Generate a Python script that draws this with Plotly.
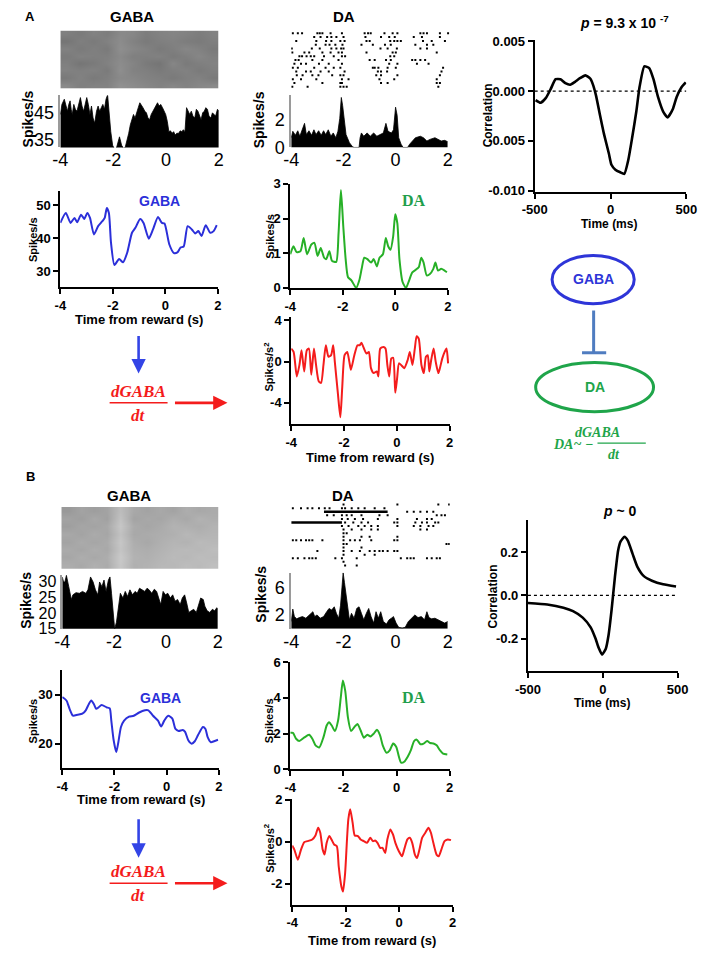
import plotly.graph_objects as go

W, H = 708, 959
SANS = "Liberation Sans, Arial, sans-serif"
SERIF = "Liberation Serif, DejaVu Serif, serif"

# ======================= DATA =======================
time_ticks = [-4, -2, 0, 2]
time_tick_text = ["-4", "-2", "0", "2"]

# ---- Panel A : PSTHs (time s, spikes/s) ----
gaba_a_psth = [(-4.0,44.4),(-3.94,48.1),(-3.85,50.0),(-3.78,46.9),(-3.73,45.6),(-3.68,48.1),(-3.63,49.4),(-3.59,46.3),
    (-3.55,44.4),(-3.49,48.1),(-3.43,46.3),(-3.37,45.6),(-3.30,48.1),(-3.24,50.6),(-3.18,47.5),(-3.12,45.6),(-3.06,48.1),
    (-3.0,50.6),(-2.94,48.1),(-2.88,44.4),(-2.82,47.5),(-2.76,43.1),(-2.70,41.2),(-2.63,45.6),(-2.57,47.5),(-2.51,45.6),
    (-2.45,46.9),(-2.39,48.1),(-2.33,46.3),(-2.27,50.0),(-2.21,51.6),(-2.15,44.4),(-2.09,38.1),(-2.02,33.1),(-1.96,31.9),
    (-1.88,31.9),(-1.80,34.4),(-1.76,36.2),(-1.68,33.1),(-1.60,31.9),(-1.54,32.5),(-1.48,34.4),(-1.41,37.5),(-1.35,40.6),
    (-1.29,42.5),(-1.23,44.4),(-1.17,43.1),(-1.11,45.6),(-1.05,46.9),(-0.99,48.7),(-0.93,47.5),(-0.87,46.9),(-0.80,45.6),
    (-0.74,45.0),(-0.68,43.1),(-0.62,42.5),(-0.56,44.4),(-0.50,45.6),(-0.44,46.9),(-0.38,48.1),(-0.32,48.7),(-0.26,47.5),
    (-0.20,48.1),(-0.13,46.9),(-0.07,45.6),(-0.01,44.4),(0.05,41.9),(0.11,38.1),(0.17,38.4),(0.23,37.5),(0.29,38.1),
    (0.35,36.9),(0.41,37.5),(0.48,37.5),(0.54,38.4),(0.60,38.1),(0.66,38.8),(0.72,38.1),(0.78,46.9),(0.84,45.6),
    (0.90,44.4),(0.96,45.6),(1.02,43.8),(1.09,43.1),(1.15,46.3),(1.21,45.6),(1.27,43.8),(1.33,42.5),(1.39,45.0),
    (1.45,45.6),(1.51,46.9),(1.57,46.3),(1.63,43.8),(1.70,43.1),(1.76,45.0),(1.82,44.4),(1.88,43.8),(1.95,46.3),(2.0,45.6)]

da_a_psth = [(-4.0,0.71),(-3.94,1.18),(-3.84,0.89),(-3.75,1.22),(-3.67,0.82),(-3.57,1.41),(-3.49,1.76),(-3.42,0.94),
    (-3.32,1.22),(-3.22,0.89),(-3.13,1.29),(-3.05,0.94),(-2.95,1.22),(-2.85,0.89),(-2.76,1.22),(-2.68,0.94),(-2.58,1.29),
    (-2.48,0.82),(-2.39,1.06),(-2.29,0.71),(-2.21,1.18),(-2.14,2.12),(-2.08,3.65),(-2.03,3.06),(-1.98,2.35),(-1.90,0.94),
    (-1.77,0.35),(-1.65,0.05),(-1.59,0.0),(-1.40,0.0),(-1.36,0.71),(-1.31,1.06),(-1.22,0.82),(-1.09,1.06),(-0.97,0.82),
    (-0.84,1.06),(-0.72,0.82),(-0.60,0.94),(-0.47,1.06),(-0.37,1.76),(-0.29,1.18),(-0.16,1.06),(-0.08,1.29),(0.0,2.94),
    (0.06,2.35),(0.12,0.71),(0.21,0.24),(0.29,0.0),(0.46,0.0),(0.54,0.24),(0.64,0.47),(0.76,0.71),(0.95,0.82),(1.07,0.71),
    (1.20,0.47),(1.32,0.59),(1.51,0.71),(1.63,0.59),(1.75,0.47),(1.88,0.52),(2.0,0.42)]

# ---- Panel A : smoothed rates ----
gaba_a_rate = [(-4.0,44.7),(-3.79,47.7),(-3.61,44.7),(-3.46,46.2),(-3.36,44.9),(-3.21,47.2),(-3.09,45.9),(-2.97,47.7),
    (-2.87,46.2),(-2.72,41.2),(-2.56,43.7),(-2.40,45.2),(-2.31,46.2),(-2.23,49.2),(-2.15,47.7),(-2.07,38.7),(-1.94,31.9),
    (-1.76,33.7),(-1.61,32.7),(-1.45,35.7),(-1.27,41.7),(-1.14,43.2),(-0.96,45.9),(-0.83,44.7),(-0.63,39.9),(-0.47,42.7),
    (-0.28,46.5),(-0.13,44.7),(-0.03,44.5),(0.15,38.2),(0.33,35.5),(0.46,35.7),(0.58,37.2),(0.70,37.5),(0.85,43.7),
    (1.01,42.7),(1.14,41.5),(1.26,42.2),(1.38,40.7),(1.54,44.0),(1.71,41.7),(1.84,42.2),(1.96,44.0)]

da_a_rate = [(-4.0,0.97),(-3.88,1.20),(-3.76,1.03),(-3.61,1.06),(-3.49,1.44),(-3.36,0.97),(-3.20,1.25),(-3.08,1.30),
    (-2.96,0.92),(-2.84,1.15),(-2.71,0.87),(-2.63,0.83),(-2.51,1.06),(-2.41,0.78),(-2.25,0.75),(-2.16,1.58),(-2.07,2.82),
    (-1.98,1.77),(-1.89,0.83),(-1.80,0.31),(-1.67,0.22),(-1.49,0.0),(-1.37,0.22),(-1.28,0.55),(-1.18,0.87),(-1.06,0.83),
    (-0.92,0.73),(-0.82,0.83),(-0.70,0.62),(-0.60,0.87),(-0.47,0.97),(-0.36,1.44),(-0.27,1.20),(-0.18,1.10),(-0.08,1.48),
    (0.0,2.12),(0.08,1.86),(0.16,0.83),(0.28,0.17),(0.41,0.0),(0.53,0.22),(0.65,0.45),(0.83,0.55),(0.90,0.60),(0.99,0.87),
    (1.08,0.73),(1.20,0.36),(1.32,0.40),(1.45,0.55),(1.53,0.73),(1.63,0.50),(1.75,0.55),(1.88,0.50),(1.97,0.45)]

da_a_deriv = [(-4.0,1.27),(-3.91,0.95),(-3.79,-1.43),(-3.69,-0.32),(-3.61,1.11),(-3.51,-0.95),(-3.41,1.11),(-3.33,1.27),
    (-3.24,-1.27),(-3.14,1.27),(-3.06,-0.32),(-2.96,-1.90),(-2.87,-2.06),(-2.78,-0.32),(-2.69,1.59),(-2.59,0.48),
    (-2.49,0.63),(-2.41,1.59),(-2.35,0.0),(-2.23,-3.17),(-2.14,-5.40),(-2.07,-2.54),(-1.98,0.63),(-1.88,0.95),(-1.80,0.0),
    (-1.74,-0.79),(-1.61,0.63),(-1.49,1.59),(-1.41,1.59),(-1.34,1.84),(-1.27,1.43),(-1.15,0.79),(-1.06,0.95),(-0.98,-0.63),
    (-0.88,-1.11),(-0.76,-0.95),(-0.70,-1.43),(-0.63,1.27),(-0.51,1.43),(-0.43,1.27),(-0.36,-0.32),(-0.29,-1.43),
    (-0.21,0.32),(-0.14,0.38),(-0.06,-3.02),(0.01,-1.59),(0.08,-0.16),(0.16,-0.32),(0.28,-0.63),(0.41,0.16),(0.49,0.95),
    (0.59,-0.32),(0.68,1.27),(0.75,2.48),(0.83,2.22),(0.93,-0.32),(1.02,-1.11),(1.10,0.48),(1.17,0.63),(1.23,-0.95),
    (1.30,0.16),(1.39,1.27),(1.47,0.0),(1.57,-1.11),(1.63,-0.63),(1.72,0.32),(1.81,0.95),(1.88,1.27),(1.94,-0.16)]

corr_a = [(-494,-0.00091),(-462,-0.00117),(-426,-0.00068),(-394,0.00023),(-362,0.00120),(-330,0.00120),(-298,0.00081),
    (-266,0.00065),(-234,0.00094),(-202,0.00130),(-166,0.00159),(-134,0.00127),(-117,0.00071),(-96,-0.00042),
    (-70,-0.00237),(-43,-0.00432),(-11,-0.00627),(6,-0.00740),(32,-0.00789),(64,-0.00815),(91,-0.00831),(117,-0.00692),
    (143,-0.00464),(170,-0.00205),(191,0.00039),(223,0.00250),(255,0.00231),(283,0.00120),(313,-0.00058),(347,-0.00205),
    (377,-0.00263),(411,-0.00179),(436,-0.00058),(468,0.00039),(496,0.00088)]

# ---- Panel B ----
gaba_b_psth = [(-4.0,31.5),(-3.95,29.9),(-3.90,29.9),(-3.84,32.0),(-3.75,28.4),(-3.65,24.3),(-3.59,25.8),(-3.47,26.5),
    (-3.34,26.3),(-3.22,26.9),(-3.09,26.3),(-3.01,27.4),(-2.91,31.5),(-2.81,29.9),(-2.72,27.4),(-2.63,25.8),(-2.56,29.9),
    (-2.47,28.4),(-2.39,30.5),(-2.31,26.9),(-2.22,30.5),(-2.16,31.5),(-2.10,26.3),(-2.04,19.1),(-1.98,15.0),(-1.91,17.1),
    (-1.85,21.2),(-1.76,26.3),(-1.66,24.8),(-1.57,26.9),(-1.48,25.3),(-1.39,27.4),(-1.29,25.8),(-1.19,26.9),(-1.11,26.3),
    (-1.02,27.9),(-0.92,27.4),(-0.82,26.9),(-0.73,27.9),(-0.65,27.4),(-0.55,26.3),(-0.45,27.6),(-0.36,26.9),(-0.27,24.3),
    (-0.20,22.7),(-0.11,26.9),(-0.02,25.8),(0.07,26.3),(0.17,24.8),(0.26,25.8),(0.35,23.8),(0.45,24.3),(0.55,22.7),
    (0.63,24.8),(0.72,25.8),(0.80,23.2),(0.88,20.2),(0.97,20.7),(1.07,21.2),(1.17,20.2),(1.25,22.2),(1.34,24.8),
    (1.44,24.3),(1.50,22.2),(1.59,20.7),(1.69,20.2),(1.79,21.2),(1.88,20.7),(1.96,21.7),(2.0,21.2)]

da_b_psth = [(-4.0,1.06),(-3.94,2.85),(-3.88,1.76),(-3.79,1.44),(-3.69,1.62),(-3.57,1.76),(-3.44,1.53),(-3.32,2.0),
    (-3.17,2.47),(-3.10,1.76),(-3.01,2.0),(-2.89,1.53),(-2.76,1.76),(-2.64,2.47),(-2.55,2.94),(-2.45,2.71),(-2.35,3.18),
    (-2.27,2.24),(-2.18,1.53),(-2.11,3.41),(-2.04,6.71),(-2.01,8.1),(-1.96,6.71),(-1.90,4.82),(-1.83,2.94),(-1.77,1.29),
    (-1.69,2.24),(-1.59,1.53),(-1.49,2.94),(-1.40,3.18),(-1.31,2.24),(-1.22,1.29),(-1.12,2.24),(-1.03,2.94),(-0.94,1.76),
    (-0.84,0.82),(-0.75,2.47),(-0.66,1.53),(-0.57,2.47),(-0.47,1.06),(-0.35,0.68),(-0.25,1.29),(-0.16,1.53),(-0.08,1.76),
    (0.02,0.82),(0.12,0.21),(0.25,0.12),(0.37,0.21),(0.49,1.06),(0.62,1.53),(0.74,2.0),(0.86,1.62),(0.99,1.76),(1.11,1.29),
    (1.20,2.47),(1.28,1.62),(1.38,1.44),(1.51,1.53),(1.63,1.29),(1.75,1.06),(1.88,0.82),(2.0,1.06)]

gaba_b_rate = [(-4.0,29.5),(-3.84,28.8),(-3.72,27.1),(-3.59,25.7),(-3.41,25.9),(-3.23,26.1),(-3.10,26.8),(-2.98,28.1),
    (-2.89,28.8),(-2.79,28.1),(-2.70,27.1),(-2.61,27.4),(-2.49,27.9),(-2.30,27.4),(-2.18,27.2),(-2.12,24.7),(-2.03,20.7),
    (-1.93,18.3),(-1.85,20.3),(-1.75,23.4),(-1.63,24.7),(-1.44,25.5),(-1.26,25.7),(-1.07,26.3),(-0.83,26.8),(-0.70,26.8),
    (-0.52,25.7),(-0.33,24.7),(-0.21,23.5),(-0.09,24.7),(0.06,25.7),(0.22,25.1),(0.34,23.0),(0.46,22.6),(0.62,22.8),
    (0.71,22.4),(0.83,20.7),(0.96,20.0),(1.08,20.5),(1.20,21.7),(1.39,23.4),(1.49,23.0),(1.57,21.4),(1.70,20.3),
    (1.82,20.5),(1.97,20.8)]

da_b_rate = [(-4.0,2.04),(-3.90,2.04),(-3.78,1.71),(-3.66,1.58),(-3.48,1.77),(-3.29,1.93),(-3.17,1.71),(-3.05,1.34),
    (-2.91,1.22),(-2.75,1.80),(-2.63,2.45),(-2.54,2.63),(-2.44,2.45),(-2.32,2.14),(-2.20,2.73),(-2.10,4.01),(-2.02,4.97),
    (-1.93,4.38),(-1.83,2.91),(-1.71,2.14),(-1.59,2.36),(-1.47,2.54),(-1.35,2.17),(-1.23,1.77),(-1.10,1.93),(-0.98,1.84),
    (-0.86,1.99),(-0.74,2.21),(-0.62,1.90),(-0.52,1.34),(-0.37,0.92),(-0.25,1.07),(-0.13,1.44),(-0.01,1.25),(0.09,0.70),
    (0.17,0.37),(0.29,0.42),(0.42,0.70),(0.54,1.07),(0.66,1.58),(0.76,1.66),(0.90,1.40),(1.02,1.44),(1.15,1.58),
    (1.27,1.47),(1.39,1.44),(1.51,1.34),(1.63,1.07),(1.75,0.88),(1.91,0.83)]

da_b_deriv = [(-4.0,-0.18),(-3.92,-0.37),(-3.79,-0.85),(-3.67,-0.37),(-3.55,-0.02),(-3.43,0.03),(-3.25,0.11),(-3.13,0.30),
    (-3.03,0.67),(-2.95,0.43),(-2.86,-0.37),(-2.79,-0.61),(-2.71,-0.05),(-2.61,0.27),(-2.53,0.11),(-2.43,-0.13),
    (-2.33,-0.21),(-2.26,-1.17),(-2.16,-2.13),(-2.10,-2.37),(-2.02,-1.49),(-1.95,0.11),(-1.90,1.07),(-1.83,1.55),
    (-1.74,0.91),(-1.66,0.30),(-1.54,0.27),(-1.44,0.11),(-1.32,0.03),(-1.20,-0.05),(-1.08,0.19),(-0.98,0.03),(-0.90,0.06),
    (-0.81,-0.05),(-0.71,-0.29),(-0.62,-0.29),(-0.52,-0.53),(-0.44,0.11),(-0.33,0.59),(-0.23,0.35),(-0.14,-0.05),
    (-0.01,-0.45),(0.11,-0.69),(0.19,-0.37),(0.31,0.11),(0.40,0.19),(0.49,-0.05),(0.59,-0.61),(0.67,-0.77),(0.76,-0.37),
    (0.86,0.19),(0.98,0.43),(1.10,0.67),(1.19,0.43),(1.28,-0.05),(1.40,-0.61),(1.48,-0.69),(1.58,-0.37),(1.70,0.03),
    (1.82,0.11),(1.94,0.08)]

corr_b = [(-500,-0.035),(-371,-0.042),(-263,-0.057),(-199,-0.073),(-134,-0.103),(-81,-0.148),(-48,-0.201),(-27,-0.244),
    (-5,-0.274),(20,-0.247),(38,-0.186),(59,-0.065),(81,0.086),(102,0.207),(119,0.250),(145,0.271),(167,0.253),
    (199,0.192),(231,0.132),(274,0.089),(328,0.068),(403,0.051),(489,0.041)]

# ---- Rasters ----
# GABA rasters shown as spike-density gray levels (rows = trial blocks, cols = 0.5 s bins from -4 to 2 s)
gaba_a_raster = [
    [.50,.52,.49,.51,.46,.47,.51,.49,.48,.49,.51,.49],
    [.54,.50,.52,.49,.45,.49,.52,.50,.49,.51,.52,.50],
    [.49,.52,.50,.52,.44,.47,.49,.52,.50,.47,.49,.52],
    [.52,.49,.50,.50,.46,.50,.50,.49,.52,.50,.47,.50],
    [.50,.54,.52,.49,.45,.48,.52,.54,.47,.52,.50,.49],
    [.49,.50,.49,.52,.44,.49,.50,.52,.50,.49,.52,.50],
    [.52,.49,.52,.50,.46,.47,.49,.50,.52,.50,.49,.52],
    [.46,.50,.49,.49,.43,.45,.47,.49,.47,.49,.47,.46]]
gaba_b_raster = [
    [.40,.36,.38,.36,.26,.34,.36,.34,.36,.32,.34,.33],
    [.36,.38,.34,.37,.24,.36,.34,.35,.32,.34,.30,.32],
    [.38,.35,.36,.34,.22,.33,.35,.33,.30,.31,.32,.30],
    [.34,.36,.33,.35,.24,.34,.33,.32,.31,.28,.30,.29],
    [.36,.33,.35,.33,.22,.32,.34,.31,.29,.30,.27,.28],
    [.33,.35,.32,.34,.23,.31,.32,.30,.28,.27,.28,.26],
    [.35,.32,.34,.32,.21,.30,.31,.29,.27,.28,.26,.27],
    [.32,.34,.31,.33,.22,.31,.30,.28,.28,.26,.27,.25]]

# DA rasters: spike times (s) per trial, top trial first
da_a_raster = [
    [-3.94,-3.75,-3.59,-3.01,-2.92,-2.82,-2.51,-2.08,-1.22,-1.09,-0.99,-0.47,-0.16,0.02,0.89,1.01,1.14,1.63,1.94],
    [-3.13,-2.89,-2.64,-2.48,-2.29,-2.02,-1.19,-0.60,-0.29,-0.08,0.64,0.95,1.63],
    [-3.81,-3.05,-2.68,-2.48,-2.14,-1.98,-1.15,-1.03,-0.25,-0.10,0.02,0.15,0.99,1.32,1.82],
    [-3.07,-2.70,-2.55,-2.33,-2.06,-1.34,-0.91,-0.45,-0.23,0.70,1.14,1.38],
    [-3.98,-3.22,-2.92,-2.48,-2.29,-2.11,-2.02,-0.62,-0.35,0.0,0.89,1.14],
    [-3.96,-3.50,-3.32,-2.82,-2.51,-2.21,-2.08,-1.15,-0.16,-0.04,1.51],
    [-3.69,-3.59,-3.42,-3.26,-3.13,-2.76,-2.39,-2.08,-1.96,-0.25,-0.10],
    [-3.84,-3.72,-3.20,-2.82,-2.21,-1.03,-0.84,-0.41,-0.23,0.58,0.70,0.89,1.07],
    [-3.88,-3.63,-3.44,-2.95,-2.58,-2.08,-0.29,0.02,0.76,1.20],
    [-3.94,-3.75,-3.13,-2.70,-2.39,-2.14,-0.91,-0.84,-0.70,-0.35,-0.04,1.75],
    [-3.81,-3.44,-3.26,-2.89,-2.58,-1.98,-0.72,-0.60,-0.37,1.69],
    [-3.79,-3.57,-3.20,-2.97,-2.45,-2.14,-2.02,-0.78,-0.60,0.02,1.63],
    [-3.94,-3.63,-3.05,-2.08,-1.83,-0.66,-0.10,1.51],
    [-3.88,-2.82,-2.14,-2.08,-0.60,-0.35,1.51,1.63],
    [-3.96,-3.38,-2.14,-2.02,-1.90,1.57]]
da_b_raster = [
    [-2.02,0.02,1.57,1.98],
    [-3.94,-3.63,-3.38,-3.20,-2.95,-2.73,-2.55,-2.08,-1.96,-1.71,-1.46,-1.22,-0.84,-0.47],
    [0.39,0.64,0.89,1.14,1.38],
    [-2.64,-2.39,-2.08,-1.90,-1.71,-1.34,-0.66,-0.35,1.51,1.69,1.82],
    [-2.08,-1.86,-1.59,-1.28,-0.72,0.02,0.76,1.14,1.32],
    [-1.96,-1.65,-1.34,-1.09,-0.10,0.02,0.70,0.95,1.14,1.45,1.57],
    [-2.08,-1.83,-1.46,-1.22,-0.97,-0.72,0.02,0.64,0.89,1.20,1.38],
    [-2.02,-1.71,-1.34,-0.97,-0.72,0.89,1.14],
    [-2.02,-1.90],
    [-2.02,-1.34,-1.03,0.02],
    [-3.94,-3.81,-3.63,-3.44,-3.32,-3.20,-2.82,-2.02,-1.77,-1.59,-1.40,-0.97,-0.10,0.02],
    [-2.02,-1.90,1.88,1.98],
    [-2.02,-1.34],
    [-3.01,-2.02,-1.71,-1.40,-1.03,-0.84,-0.66,-0.53,-0.35,-0.10,0.02],
    [-2.02,-1.22,-0.84],
    [-3.94,-3.75,-3.50,-3.32,-3.20,-3.07,-2.33,-2.08,-1.52,0.15,0.39,0.52,0.64,1.14,1.32,1.51,1.63],
    [-2.02],
    [-1.96,-1.52]]
# bursts (dense runs of spikes): (trial, start s, end s)
da_b_bursts = [(3, -2.76, -0.35), (6, -4.0, -2.08)]

# tick labels
gaba_a_psth_ticks, gaba_a_psth_ticktext = [35, 45], ["35", "45"]
da_a_psth_ticks, da_a_psth_ticktext = [0, 2], ["0", "2"]
gaba_b_psth_ticks, gaba_b_psth_ticktext = [15, 20, 25, 30], ["15", "20", "25", "30"]
da_b_psth_ticks, da_b_psth_ticktext = [2, 6], ["2", "6"]
gaba_a_rate_ticks = [30, 40, 50]
da_a_rate_ticks = [0, 1, 2, 3]
da_a_deriv_ticks = [-4, 0, 4]
gaba_b_rate_ticks = [20, 30]
da_b_rate_ticks = [0, 2, 4, 6]
da_b_deriv_ticks = [-2, 0, 2]
corr_a_ticks, corr_a_ticktext = [-0.010, -0.005, 0.0, 0.005], ["-0.010", "-0.005", "0.000", "0.005"]
corr_b_ticks, corr_b_ticktext = [-0.2, 0.0, 0.2], ["-0.2", "0.0", "0.2"]
lag_ticks, lag_ticktext = [-500, 0, 500], ["-500", "0", "500"]

# ======================= FIGURE =======================
fig = go.Figure()
BLUE = "#2b2fd9"
GREEN = "#27b027"
RED = "#f41c1c"
TXT_GREEN = "#1f9e4c"


def unzip(pairs):
    return [p[0] for p in pairs], [p[1] for p in pairs]


counter = [0]


def make_axes(box, xr, yr, kind, xticks=None, xtext=None, yticks=None, ytext=None, fsize=18):
    counter[0] += 1
    i = counter[0]
    xk, yk = ("xaxis", "yaxis") if i == 1 else ("xaxis%d" % i, "yaxis%d" % i)
    xid, yid = ("x", "y") if i == 1 else ("x%d" % i, "y%d" % i)
    x0, x1, yt, yb = box
    xa = dict(domain=[x0 / W, x1 / W], range=xr, anchor=yid, showgrid=False, zeroline=False, fixedrange=True)
    ya = dict(domain=[1 - yb / H, 1 - yt / H], range=yr, anchor=xid, showgrid=False, zeroline=False, fixedrange=True)
    if kind == "hidden":
        xa.update(visible=False)
        ya.update(visible=False)
    elif kind == "matlab":
        f = dict(family=SANS, size=18, color="black")
        fy_ = dict(family=SANS, size=fsize, color="black")
        xa.update(showline=False, ticks="", tickmode="array", tickvals=xticks, ticktext=xtext, tickfont=f)
        ya.update(showline=True, linecolor="#9a9a9a", linewidth=1.5, ticks="", tickmode="array",
                  tickvals=yticks, ticktext=ytext, tickfont=fy_, ticklabelstandoff=1)
    else:
        f = dict(family=SANS, size=13, color="black", weight="bold")
        for a, tv, tt in ((xa, xticks, xtext), (ya, yticks, ytext)):
            a.update(showline=True, linecolor="black", linewidth=2, ticks="outside", ticklen=5, tickwidth=2,
                     tickcolor="black", tickmode="array", tickvals=tv, ticktext=tt, tickfont=f)
    fig.update_layout({xk: xa, yk: ya})
    return xid, yid


def psth(pairs, ax):
    t, v = unzip(pairs)
    fig.add_trace(go.Scatter(x=t, y=v, mode="lines", fill="tozeroy", fillcolor="black",
                             line=dict(color="black", width=0.8), xaxis=ax[0], yaxis=ax[1], hoverinfo="skip"))


def rate(pairs, ax, color):
    t, v = unzip(pairs)
    fig.add_trace(go.Scatter(x=t, y=v, mode="lines", line=dict(color=color, width=2, shape="spline", smoothing=0.6),
                             xaxis=ax[0], yaxis=ax[1], hoverinfo="skip"))


def gray_raster(mat, ax):
    fig.add_trace(go.Heatmap(z=mat, x0=-3.75, dx=0.5, y0=1, dy=1, colorscale=[[0, "white"], [1, "black"]],
                             zmin=0, zmax=1, showscale=False, zsmooth="best", xaxis=ax[0], yaxis=ax[1], hoverinfo="skip"))


def dot_raster(rows, ax, bursts=()):
    xs, ys = [], []
    for k, row in enumerate(rows):
        xs += row
        ys += [k + 1] * len(row)
    fig.add_trace(go.Scatter(x=xs, y=ys, mode="markers", marker=dict(symbol="square", size=2.0, color="black"),
                             xaxis=ax[0], yaxis=ax[1], hoverinfo="skip"))
    for (r, a, b) in bursts:
        fig.add_trace(go.Scatter(x=[a, b], y=[r, r], mode="lines", line=dict(color="black", width=2.5),
                                 xaxis=ax[0], yaxis=ax[1], hoverinfo="skip"))


def corr(pairs, ax):
    t, v = unzip(pairs)
    fig.add_trace(go.Scatter(x=[-500, 500], y=[0, 0], mode="lines", line=dict(color="black", width=1.3, dash="dot"),
                             xaxis=ax[0], yaxis=ax[1], hoverinfo="skip"))
    fig.add_trace(go.Scatter(x=t, y=v, mode="lines", line=dict(color="black", width=2.6, shape="spline", smoothing=0.5),
                             xaxis=ax[0], yaxis=ax[1], hoverinfo="skip"))


T = [-4, 2]
# ---------- Panel A ----------
ax = make_axes((49, 213, 24, 83), T, [8.5, 0.5], "hidden"); gray_raster(gaba_a_raster, ax)
ax = make_axes((49, 213, 90, 143), T, [32.3, 51.4], "matlab", time_ticks, time_tick_text,
               gaba_a_psth_ticks, gaba_a_psth_ticktext); psth(gaba_a_psth, ax)
ax = make_axes((288, 452, 24, 84), T, [15.7, 0.3], "hidden"); dot_raster(da_a_raster, ax)
ax = make_axes((288, 450, 90, 143), T, [0, 3.8], "matlab", time_ticks, time_tick_text,
               da_a_psth_ticks, da_a_psth_ticktext); psth(da_a_psth, ax)
ax = make_axes((540, 697, 34, 188), [-500, 500], [-0.0101, 0.0051], "prism", lag_ticks, lag_ticktext,
               corr_a_ticks, corr_a_ticktext); corr(corr_a, ax)
ax = make_axes((49, 212, 187, 285), T, [25.2, 54.5], "prism", time_ticks, time_tick_text,
               gaba_a_rate_ticks, [str(v) for v in gaba_a_rate_ticks]); rate(gaba_a_rate, ax, BLUE)
ax = make_axes((287, 450, 180, 286), T, [0, 3], "prism", time_ticks, time_tick_text,
               da_a_rate_ticks, [str(v) for v in da_a_rate_ticks]); rate(da_a_rate, ax, GREEN)
ax = make_axes((288, 452, 316, 425), T, [-6.1, 4.3], "prism", time_ticks, time_tick_text,
               da_a_deriv_ticks, [str(v) for v in da_a_deriv_ticks]); rate(da_a_deriv, ax, RED)

# ---------- Panel B ----------
ax = make_axes((50, 213, 509, 572), T, [8.5, 0.5], "hidden"); gray_raster(gaba_b_raster, ax)
ax = make_axes((51, 212, 578, 633), T, [15, 32.2], "matlab", time_ticks, time_tick_text,
               gaba_b_psth_ticks, gaba_b_psth_ticktext, fsize=16); psth(gaba_b_psth, ax)
ax = make_axes((288, 452, 504, 571), T, [18.7, 0.3], "hidden"); dot_raster(da_b_raster, ax, da_b_bursts)
ax = make_axes((288, 450, 576, 633), T, [0, 8.1], "matlab", time_ticks, time_tick_text,
               da_b_psth_ticks, da_b_psth_ticktext); psth(da_b_psth, ax)
ax = make_axes((533, 688, 522, 676), [-500, 500], [-0.35, 0.35], "prism", lag_ticks, lag_ticktext,
               corr_b_ticks, corr_b_ticktext); corr(corr_b, ax)
ax = make_axes((51, 213, 675, 775), T, [15, 35], "prism", time_ticks, time_tick_text,
               gaba_b_rate_ticks, [str(v) for v in gaba_b_rate_ticks]); rate(gaba_b_rate, ax, BLUE)
ax = make_axes((287, 452, 667, 776), T, [0, 6], "prism", time_ticks, time_tick_text,
               da_b_rate_ticks, [str(v) for v in da_b_rate_ticks]); rate(da_b_rate, ax, GREEN)
ax = make_axes((289, 455, 806, 914), T, [-3, 2.05], "prism", time_ticks, time_tick_text,
               da_b_deriv_ticks, [str(v) for v in da_b_deriv_ticks]); rate(da_b_deriv, ax, RED)


# ---------- text ----------
def text(x, y, s, size, color="black", bold=True, family=SANS, angle=0, italic=False):
    fig.add_annotation(x=x / W, y=1 - y / H, xref="paper", yref="paper", text=s, showarrow=False,
                       font=dict(family=family, size=size, color=color, weight="bold" if bold else "normal",
                                 style="italic" if italic else "normal"),
                       textangle=angle, xanchor="center", yanchor="middle")


def arrow(x0, y0, x1, y1, color):
    fig.add_annotation(x=x1 / W, y=1 - y1 / H, xref="paper", yref="paper", ax=x0 - x1, ay=y0 - y1,
                       axref="pixel", ayref="pixel", showarrow=True, arrowhead=2, arrowsize=1.1,
                       arrowwidth=2.6, arrowcolor=color, text="")


def line(x0, y0, x1, y1, color, width):
    fig.add_shape(type="line", xref="paper", yref="paper", x0=x0 / W, y0=1 - y0 / H, x1=x1 / W, y1=1 - y1 / H,
                  line=dict(color=color, width=width))


def ellipse(x0, y0, x1, y1, color, width):
    fig.add_shape(type="circle", xref="paper", yref="paper", x0=x0 / W, y0=1 - y1 / H, x1=x1 / W, y1=1 - y0 / H,
                  line=dict(color=color, width=width))


def fraction(cx, cy, color, size, w):
    text(cx, cy - 12, "dGABA", size, color, True, SERIF, italic=True)
    line(cx - w / 2, cy, cx + w / 2, cy, color, 1.5)
    text(cx, cy + 13, "dt", size, color, True, SERIF, italic=True)


text(18, 10, "A", 13)
text(18, 478, "B", 13)
text(123, 10, "GABA", 15)
text(343, 10, "DA", 15)
text(120, 497, "GABA", 15)
text(342, 497, "DA", 15)

# MATLAB-style y labels
for (x, y) in [(16, 114), (255, 115), (14, 604), (257, 598)]:
    text(x, y, "Spikes/s", 14, angle=-90)
# Prism y labels
for (x, y) in [(21, 237), (266, 233), (21, 727), (265, 727)]:
    text(x, y, "Spikes/s", 11, angle=-90)
for (x, y) in [(265, 367), (265, 857)]:
    text(x, y, "Spikes/s<sup>2</sup>", 11, angle=-90)
for (x, y) in [(130, 318), (370, 459), (133, 807), (372, 950)]:
    text(x, y, "Time from reward (s)", 13)
text(492, 110, "Correlation", 12, angle=-90)
text(497, 600, "Correlation", 12, angle=-90)
text(617, 221, "Time (ms)", 12)
text(610, 709, "Time (ms)", 12)
text(633, 15, "<i>p</i> = 9.3 x 10 <sup>-7</sup>", 14)
text(628, 513, "<i>p</i> ~ 0", 14)

text(152, 197, "GABA", 14, BLUE)
text(153, 703, "GABA", 14, BLUE)
text(415, 197, "DA", 16, TXT_GREEN, True, SERIF)
text(415, 703, "DA", 16, TXT_GREEN, True, SERIF)

# arrows and derivative labels
arrow(130, 334, 130, 373, "#3344e6")
arrow(130, 826, 130, 866, "#3344e6")
arrow(168, 403, 222, 403, RED)
arrow(168, 892, 222, 892, RED)
fraction(130, 403, RED, 17, 60)
fraction(130, 892, RED, 17, 60)

# schematic
ellipse(558, 253, 643, 302, "#2e35d8", 3)
text(601, 277, "GABA", 14, "#2e35d8")
line(601, 309, 601, 352, "#4f7cc0", 3)
line(589, 352, 614, 352, "#4f7cc0", 3)
ellipse(541, 362, 663, 412, "#1fa54a", 3)
text(602, 387, "DA", 14, "#1fa54a")
text(580, 445, "DA~ −", 14, "#1fa54a", True, SERIF, italic=True)
fig.add_annotation(x=630 / W, y=1 - 433 / H, xref="paper", yref="paper", text="dGABA", showarrow=False,
                   font=dict(family=SERIF, size=14, color="#1fa54a", weight="bold", style="italic"))
line(605, 444, 655, 444, "#1fa54a", 1.3)
fig.add_annotation(x=630 / W, y=1 - 456 / H, xref="paper", yref="paper", text="dt", showarrow=False,
                   font=dict(family=SERIF, size=14, color="#1fa54a", weight="bold", style="italic"))

fig.update_layout(width=W, height=H, autosize=False, margin=dict(l=0, r=0, t=0, b=0),
                  paper_bgcolor="white", plot_bgcolor="rgba(0,0,0,0)", showlegend=False,
                  font=dict(family=SANS, color="black"))

fig.write_html("out.html", config={"responsive": False, "displayModeBar": False},
               post_script="document.body.style.margin='0';document.body.style.overflow='hidden';")
